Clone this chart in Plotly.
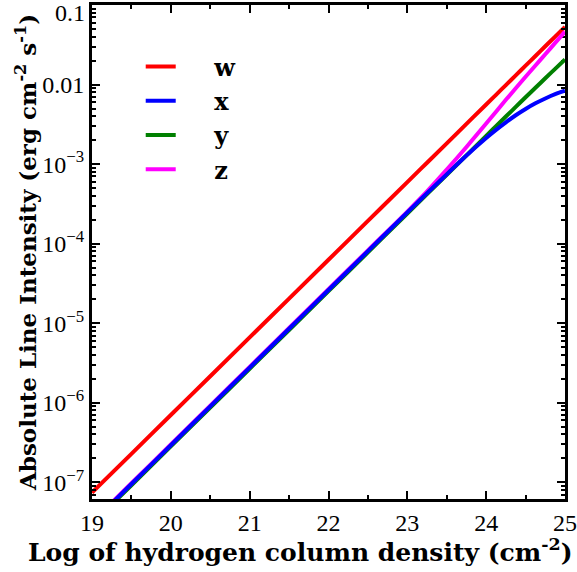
import numpy as np
import plotly.graph_objects as go

# Log10 of hydrogen column density (cm^-2)
log_nh = [19, 19.5, 20, 20.5, 21, 21.5, 22, 22.5, 23, 23.25, 23.5, 23.75, 24,
          24.125, 24.25, 24.375, 24.5, 24.625, 24.75, 24.875, 25]

# log10 of absolute line intensity (erg cm^-2 s^-1)
log_w = [-7.130, -6.642, -6.154, -5.666, -5.178, -4.690, -4.202, -3.714, -3.226, -2.982,
         -2.738, -2.494, -2.250, -2.128, -2.006, -1.884, -1.762, -1.640, -1.518, -1.396, -1.274]
log_x = [-7.510, -7.022, -6.534, -6.046, -5.558, -5.070, -4.582, -4.094, -3.606, -3.365,
         -3.128, -2.891, -2.671, -2.569, -2.474, -2.385, -2.306, -2.235, -2.174, -2.120, -2.076]
log_y = [-7.525, -7.037, -6.549, -6.061, -5.573, -5.085, -4.597, -4.109, -3.621, -3.377,
         -3.133, -2.889, -2.645, -2.523, -2.401, -2.280, -2.159, -2.040, -1.920, -1.802, -1.684]
log_z = [-7.500, -7.012, -6.524, -6.036, -5.548, -5.060, -4.572, -4.084, -3.596, -3.342,
         -3.068, -2.784, -2.490, -2.340, -2.191, -2.046, -1.902, -1.760, -1.618, -1.476, -1.334]

series_names = ["w", "x", "y", "z"]
series_colors = ["#ff0000", "#0000ff", "#008000", "#ff00ff"]
series_zorder = [0, 3, 2, 1]
series_logs = [log_w, log_x, log_y, log_z]

y_tickvals = [1e-7, 1e-6, 1e-5, 1e-4, 1e-3, 1e-2, 1e-1]
y_ticktext = ["10<sup>−7</sup>", "10<sup>−6</sup>", "10<sup>−5</sup>", "10<sup>−4</sup>",
              "10<sup>−3</sup>", "0.01", ""]
top_label = "0.1"
x_tickvals = [19, 20, 21, 22, 23, 24, 25]
x_title = "Log of hydrogen column density (cm<sup>-2</sup>)"
y_title = "Absolute Line Intensity (erg cm<sup>-2</sup> s<sup>-1</sup>)"

fig = go.Figure()
pad = "\u00a0" * 4
for name, color, zo, lg in zip(series_names, series_colors, series_zorder, series_logs):
    fig.add_trace(go.Scatter(
        x=log_nh, y=10 ** np.array(lg), mode="lines", name=pad + name,
        zorder=zo, line=dict(color=color, width=4, shape="spline"),
    ))

minor_y = [k * 10.0 ** e for e in range(-8, -1) for k in range(2, 10)]

tick_font = dict(family="Liberation Serif", size=24, color="black")
title_font_x = dict(family="DejaVu Serif", size=25, color="black", weight="bold")
title_font_y = dict(family="DejaVu Serif", size=23, color="black", weight="bold")

fig.update_layout(
    width=577, height=572,
    margin=dict(l=92, r=12, t=5, b=73),
    paper_bgcolor="white", plot_bgcolor="white",
    showlegend=True,
    legend=dict(x=0.103, y=0.92, xanchor="left", yanchor="top",
                bgcolor="rgba(0,0,0,0)", traceorder="normal",
                font=dict(family="DejaVu Serif", size=24, color="black", weight="bold")),
    xaxis=dict(
        range=[19, 25], tickvals=x_tickvals, ticks="inside", ticklen=8, tickwidth=2,
        tickcolor="black", showline=True, linewidth=3, linecolor="black",
        mirror="allticks", showgrid=False, zeroline=False, tickfont=tick_font,
        automargin=False,
        minor=dict(dtick=0.5, ticks="inside", ticklen=4, tickwidth=2, tickcolor="black", showgrid=False),
    ),
    yaxis=dict(
        type="log", range=[-7.21, -0.999], tickvals=y_tickvals, ticktext=y_ticktext,
        ticks="inside", ticklen=8, tickwidth=2, tickcolor="black",
        showline=True, linewidth=3, linecolor="black", mirror="allticks",
        showgrid=False, zeroline=False, tickfont=tick_font, automargin=False,
        minor=dict(tickvals=minor_y, ticks="inside", ticklen=4, tickwidth=2, tickcolor="black", showgrid=False),
        title=dict(text=y_title, font=title_font_y, standoff=0),
    ),
    annotations=[
        dict(text=top_label, xref="paper", yref="y", x=0, y=-1, xanchor="right",
             yanchor="middle", xshift=-5, yshift=-8, showarrow=False, font=tick_font),
        dict(text=x_title, xref="paper", yref="paper", x=0.4408, y=-0.105,
             xanchor="center", yanchor="middle", showarrow=False, font=title_font_x),
    ],
)

fig.write_html("out.html", config={"displayModeBar": False},
               post_script="document.body.style.margin='0px';")
